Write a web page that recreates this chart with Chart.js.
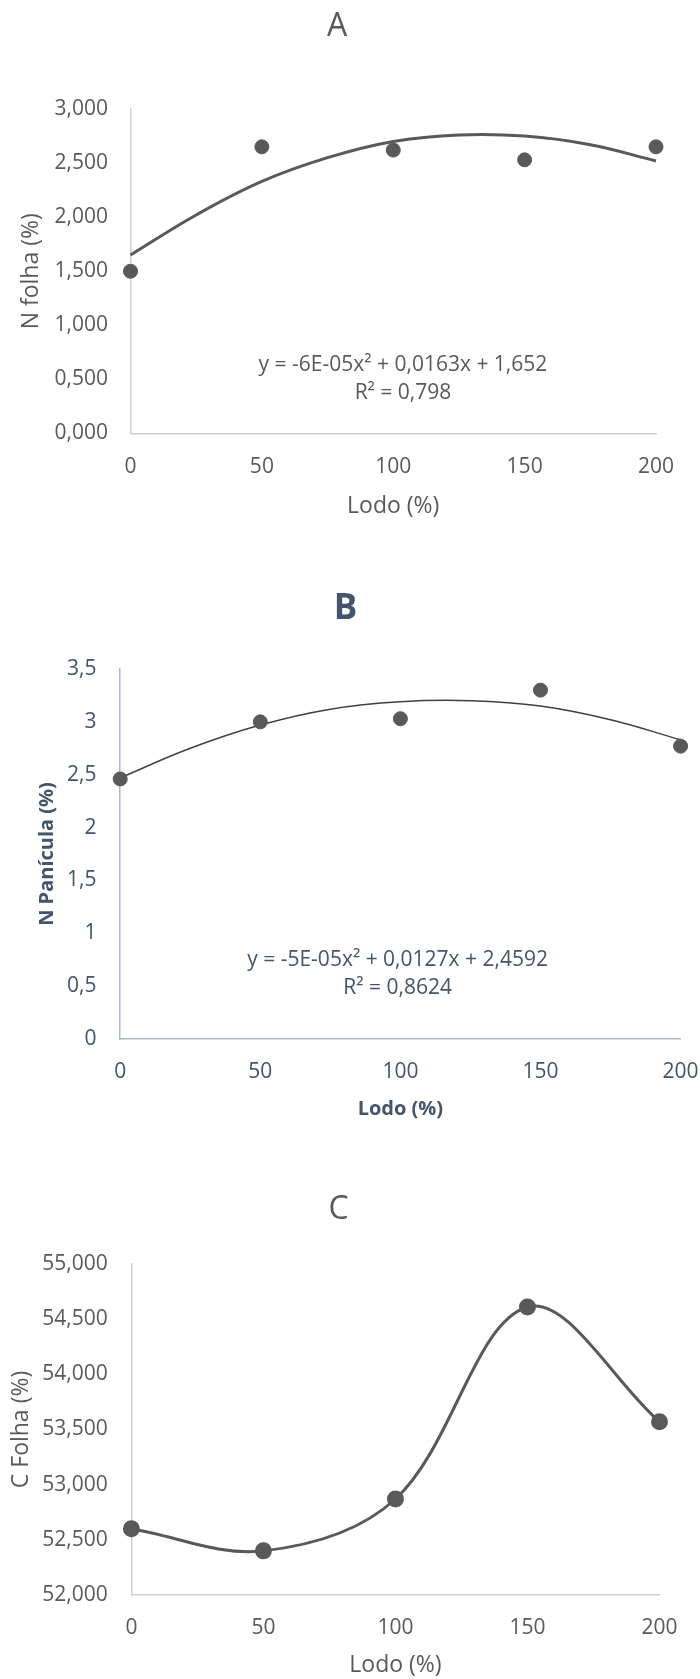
<!DOCTYPE html>
<html>
<head>
<meta charset="utf-8">
<script src="https://cdn.jsdelivr.net/npm/chart.js@4.4.1/dist/chart.umd.min.js"></script>
<style>
  body { margin: 0; background: #fff; }
  canvas { position: absolute; left: 0; }
</style>
</head>
<body>
<canvas id="chartA" width="700" height="540" style="top:0"></canvas>
<canvas id="chartB" width="700" height="580" style="top:540px"></canvas>
<canvas id="chartC" width="700" height="559" style="top:1120px"></canvas>
<script>
// Lodo doses (x) and measured values
const lodo = [0, 50, 100, 150, 200];
const nFolha = [1.50, 2.65, 2.62, 2.53, 2.65];
const nPanicula = [2.46, 3.00, 3.03, 3.30, 2.77];
const cFolha = [52.60, 52.40, 52.87, 54.61, 53.57];

// trend lines
const trendX = [0, 25, 50, 75, 100, 125, 150, 175, 200];
const trendNFolha = [1.65, 2.02, 2.33, 2.55, 2.70, 2.76, 2.75, 2.67, 2.52];
const trendNPanicula = [2.47, 2.75, 2.97, 3.12, 3.19, 3.20, 3.15, 3.02, 2.83];

// tick labels
const xTicks = [0, 50, 100, 150, 200];
const yTicksA = [0, 0.5, 1, 1.5, 2, 2.5, 3];
const yTicksB = [0, 0.5, 1, 1.5, 2, 2.5, 3, 3.5];
const yTicksC = [52, 52.5, 53, 53.5, 54, 54.5, 55];

const eqA = ['y = -6E-05x² + 0,0163x + 1,652', 'R² = 0,798'];
const eqB = ['y = -5E-05x² + 0,0127x + 2,4592', 'R² = 0,8624'];

Chart.defaults.font.family = "'Open Sans', sans-serif";

const pts = (xs, ys) => xs.map((x, i) => ({ x: x, y: ys[i] }));
const comma3 = v => v.toFixed(3).replace('.', ',');
const commaShort = v => String(v).replace('.', ',');

// draws the trendline equation text
const equationPlugin = {
    id: 'eqn',
    afterDatasetsDraw(chart, args, opts) {
        if (!opts.lines) return;
        const { ctx, scales } = chart;
        ctx.save();
        ctx.font = '21px "Open Sans", sans-serif';
        ctx.fillStyle = opts.color;
        ctx.textAlign = 'center';
        ctx.textBaseline = 'middle';
        opts.lines.forEach((t, i) => {
            ctx.fillText(t, scales.x.getPixelForValue(opts.x), scales.y.getPixelForValue(opts.y[i]));
        });
        ctx.restore();
    }
};

function buildChart(id, o) {
    new Chart(document.getElementById(id), {
        type: 'scatter',
        data: { datasets: o.datasets },
        options: {
            responsive: false,
            animation: false,
            layout: { padding: { left: 0, right: o.padRight, top: 0, bottom: o.padBottom } },
            plugins: {
                legend: { display: false },
                tooltip: { enabled: false },
                title: {
                    display: true,
                    text: o.title,
                    color: o.textColor,
                    font: { size: o.titleSize, weight: o.bold ? 'bold' : 'normal', lineHeight: 1 },
                    padding: { top: o.titleTop, bottom: o.titleBottom }
                },
                eqn: o.eqn || {}
            },
            scales: {
                x: {
                    type: 'linear',
                    min: 0,
                    max: 200,
                    afterBuildTicks: s => { s.ticks = xTicks.map(v => ({ value: v })); },
                    // right margin of the plot (layout takes max of this and padding.right)
                    afterFit: s => { s.height = o.xHeight; s.paddingLeft = 0; s.paddingRight = o.rightMargin; },
                    grid: { display: false, drawTicks: false },
                    border: { display: true, color: o.axisColor, width: 1.5 },
                    ticks: { color: o.textColor, font: { size: 21, lineHeight: 1 }, padding: o.xTickPad, maxRotation: 0, autoSkip: false },
                    title: {
                        display: true,
                        text: 'Lodo (%)',
                        color: o.textColor,
                        font: { size: o.axisTitleSize, weight: o.bold ? 'bold' : 'normal', lineHeight: 1 },
                        padding: { top: 0, bottom: 0 }
                    }
                },
                y: {
                    type: 'linear',
                    min: o.yTicks[0],
                    max: o.yTicks[o.yTicks.length - 1],
                    afterBuildTicks: s => { s.ticks = o.yTicks.map(v => ({ value: v })); },
                    afterFit: s => { s.width = o.yWidth; s.paddingTop = 0; s.paddingBottom = 0; },
                    grid: { display: false, drawTicks: false },
                    border: { display: true, color: o.axisColor, width: 1.5 },
                    ticks: { color: o.textColor, font: { size: 21, lineHeight: 1 }, padding: o.yTickPad, callback: o.yFormat },
                    title: {
                        display: true,
                        text: o.yTitle,
                        color: o.textColor,
                        font: { size: o.axisTitleSize, weight: o.bold ? 'bold' : 'normal', lineHeight: 1 },
                        padding: { top: o.yTitlePad, bottom: 0 }
                    }
                }
            }
        },
        plugins: [equationPlugin]
    });
}

// A - N folha
buildChart('chartA', {
    title: 'A', titleSize: 32, titleTop: 11, titleBottom: 66,
    textColor: '#595959', axisColor: '#CFCFCF',
    padRight: 26, padBottom: 22.5, rightMargin: 44, xHeight: 84, xTickPad: 22.7,
    yWidth: 130.5, yTickPad: 22.5, yTitlePad: 19.5, axisTitleSize: 23,
    yTicks: yTicksA, yFormat: comma3, yTitle: 'N folha (%)',
    eqn: { lines: eqA, x: 103.7, y: [0.633, 0.374], color: '#595959' },
    datasets: [
        { data: pts(lodo, nFolha), pointRadius: 7, backgroundColor: '#595959', borderColor: '#595959', clip: false },
        { data: pts(trendX, trendNFolha), showLine: true, pointRadius: 0, borderColor: '#595959', borderWidth: 3, tension: 0.4, clip: false }
    ]
});

// B - N panicula
buildChart('chartB', {
    title: 'B', titleSize: 35, bold: true, titleTop: 51.5, titleBottom: 42.5,
    textColor: '#44546A', axisColor: '#ADB9CA',
    padRight: 9, padBottom: 1, rightMargin: 19.4, xHeight: 80, xTickPad: 22.2,
    yWidth: 120.2, yTickPad: 23.7, yTitlePad: 37, axisTitleSize: 20,
    yTicks: yTicksB, yFormat: commaShort, yTitle: 'N Panícula (%)',
    eqn: { lines: eqB, x: 99, y: [0.751, 0.486], color: '#44546A' },
    datasets: [
        { data: pts(lodo, nPanicula), pointRadius: 7, backgroundColor: '#595959', borderColor: '#595959', clip: false },
        { data: pts(trendX, trendNPanicula), showLine: true, pointRadius: 0, borderColor: '#404040', borderWidth: 1.5, tension: 0.4, clip: false }
    ]
});

// C - C folha
buildChart('chartC', {
    title: 'C', titleSize: 32, titleTop: 74, titleBottom: 38,
    textColor: '#595959', axisColor: '#CFCFCF',
    padRight: 22.6, padBottom: 2.5, rightMargin: 40.5, xHeight: 81.5, xTickPad: 22.5,
    yWidth: 131.4, yTickPad: 23.7, yTitlePad: 9.5, axisTitleSize: 23,
    yTicks: yTicksC, yFormat: comma3, yTitle: 'C Folha (%)',
    datasets: [
        { data: pts(lodo, cFolha), showLine: true, tension: 0.35, pointRadius: 7, backgroundColor: '#595959', borderColor: '#595959', borderWidth: 3, clip: false }
    ]
});
</script>
</body>
</html>
